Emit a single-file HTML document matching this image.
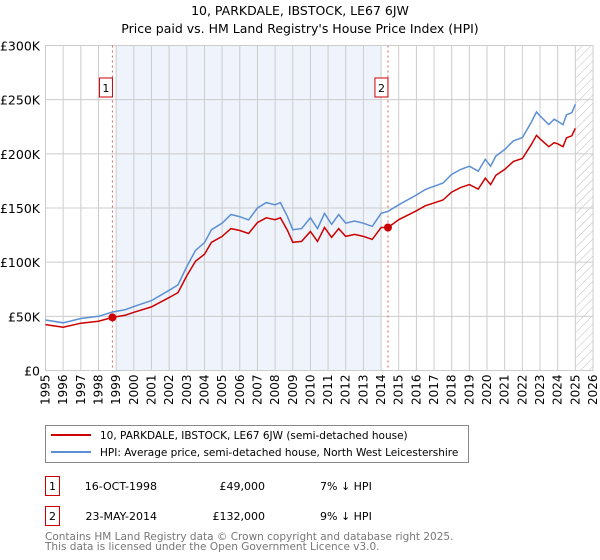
<!DOCTYPE html>
<html><head><meta charset="utf-8">
<style>
body{margin:0;background:#fff;font-family:"Liberation Sans","DejaVu Sans",sans-serif;}
#wrap{position:relative;width:600px;height:560px;overflow:hidden;}
svg text{font-family:"DejaVu Sans","Liberation Sans",sans-serif;}
</style></head>
<body><div id="wrap">
<svg id="chart" width="600" height="560"></svg>
</div>
<script>
const hpiYears=[1995,1996,1997,1998,1998.8,1999.5,2000,2001,2002,2002.5,2003,2003.5,2004,2004.4,2005,2005.5,2006,2006.5,2007,2007.5,2008,2008.3,2008.7,2009,2009.5,2010,2010.4,2010.8,2011.2,2011.6,2012,2012.5,2013,2013.5,2014,2014.4,2015,2016,2016.5,2017,2017.5,2018,2018.5,2019,2019.5,2019.9,2020.2,2020.5,2021,2021.5,2022,2022.5,2022.8,2023,2023.5,2023.8,2024,2024.3,2024.5,2024.8,2025.0];
const hpiValues=[46.6,44,48,50,54,56,59,64.5,74,79,96,111,118,130,136,144,142,139,150,155,153,155,142,130,131,141,131,145,135,144,136,138,136,133,145,147,153,162,167,170,173,181,185.5,188.6,184,195,188.6,198,204,212,215,229,238.6,235,227,232,230,227,236,238,245.7];
const priceValues=[42.4,40,43.7,45.5,49,51,53.7,58.7,67.3,71.9,87.4,101,107.4,118.3,123.8,131,129.2,126.5,136.5,141,139.2,141,129.2,118.3,119.2,128.3,119.2,132,122.9,131,123.8,125.6,123.8,121,132,132,139.2,147.4,152,154.7,157.4,164.7,168.8,171.6,167.4,177.5,171.6,180.2,185.6,193,195.7,208.4,217.1,213.9,206.6,210.3,209.3,206.6,214.8,216.6,223.6];
const saleYears=[1998.79,2014.39];
const saleValues=[49,132];
const saleLabels=["1","2"];
const yTicks=[0,50,100,150,200,250,300];
const yTickLabels=["£0","£50K","£100K","£150K","£200K","£250K","£300K"];
const xTicks=[1995,1996,1997,1998,1999,2000,2001,2002,2003,2004,2005,2006,2007,2008,2009,2010,2011,2012,2013,2014,2015,2016,2017,2018,2019,2020,2021,2022,2023,2024,2025,2026];

const L=45.5,R=593,T=45.5,B=370.5;
const x=y=>L+(y-1995)*(R-L)/31;
const yS=v=>B-v*(B-T)/300;
const NS="http://www.w3.org/2000/svg";
const svg=document.getElementById('chart');
function mk(t,a,p){const e=document.createElementNS(NS,t);for(const k in a)e.setAttribute(k,a[k]);(p||svg).appendChild(e);return e;}

let t=mk('text',{x:300,y:15,'text-anchor':'middle','font-size':12.5,fill:'#000'});t.textContent="10, PARKDALE, IBSTOCK, LE67 6JW";


t=mk('text',{x:300,y:33,'text-anchor':'middle','font-size':12.5,fill:'#000'});t.textContent="Price paid vs. HM Land Registry's House Price Index (HPI)";



let defs=mk('defs',{});
let pat=mk('pattern',{id:'hatch',width:6,height:6,patternUnits:'userSpaceOnUse',patternTransform:'rotate(45)'},defs);
mk('line',{x1:0,y1:0,x2:0,y2:6,stroke:'#bbb','stroke-width':1},pat);
let sh=mk('rect',{x:x(1999.0),y:T,width:x(2014.0)-x(1999.0),height:B-T,fill:'#eef3fc'});


let hz=mk('rect',{x:x(2025.05),y:T,width:R-x(2025.05),height:B-T,fill:'url(#hatch)'});



xTicks.forEach(v=>{const g=mk('line',{x1:x(v),x2:x(v),y1:T,y2:B,stroke:'#ccc','stroke-width':1});


const tx=mk('text',{x:0,y:0,'font-size':12,fill:'#000','text-anchor':'end',transform:`translate(${x(v)+4},${B+4}) rotate(-90)`});tx.textContent=v;

});
yTicks.forEach((v,i)=>{const g=mk('line',{x1:L,x2:R,y1:yS(v),y2:yS(v),stroke:'#ccc','stroke-width':1});


const tx=mk('text',{x:40,y:yS(v)+5,'font-size':12.5,fill:'#000','text-anchor':'end'});tx.textContent=yTickLabels[i];

});
let ax=mk('rect',{x:L,y:T,width:R-L,height:B-T,fill:'none',stroke:'#ccc'});



saleYears.forEach((s,i)=>{const l=mk('line',{x1:x(s),x2:x(s),y1:T,y2:B,stroke:'#e06060','stroke-width':1,'stroke-dasharray':'2,3'});


const bx=x(s)-10;
const r=mk('rect',{x:bx-3,y:78,width:13,height:19,fill:'#fff',stroke:'#cc0000'});


const tx=mk('text',{x:bx+3.5,y:92,'font-size':11,'text-anchor':'middle'});tx.textContent=saleLabels[i];

});

function path(xs,vs){return xs.map((a,i)=>(i?'L':'M')+x(a).toFixed(1)+','+yS(vs[i]).toFixed(1)).join('');}
let hp=mk('path',{d:path(hpiYears,hpiValues),fill:'none',stroke:'#5b8fd4','stroke-width':1.5});


let pp=mk('path',{d:path(hpiYears,priceValues),fill:'none',stroke:'#cc0000','stroke-width':1.5});


saleYears.forEach((s,i)=>{const c=mk('circle',{cx:x(s),cy:yS(saleValues[i]),r:4,fill:'#cc0000'});

});

let lg=mk('rect',{x:45.5,y:425.5,width:423,height:37,fill:'#fff',stroke:'#888'});


mk('line',{x1:51,x2:91,y1:435,y2:435,stroke:'#cc0000','stroke-width':2});
mk('line',{x1:51,x2:91,y1:452,y2:452,stroke:'#5b8fd4','stroke-width':2});
t=mk('text',{x:100,y:439,'font-size':10.5});t.textContent="10, PARKDALE, IBSTOCK, LE67 6JW (semi-detached house)";


t=mk('text',{x:100,y:456,'font-size':10.5});t.textContent="HPI: Average price, semi-detached house, North West Leicestershire";



const rows=[["1","16-OCT-1998","£49,000","7% ↓ HPI",476],["2","23-MAY-2014","£132,000","9% ↓ HPI",506]];
rows.forEach(r=>{const b=mk('rect',{x:45.5,y:r[4]+0.5,width:14,height:19,fill:'#fff',stroke:'#cc0000'});


let a=mk('text',{x:52.5,y:r[4]+14,'font-size':11,'text-anchor':'middle'});a.textContent=r[0];
a=mk('text',{x:157,y:r[4]+14,'font-size':11,'text-anchor':'end'});a.textContent=r[1];


a=mk('text',{x:265,y:r[4]+14,'font-size':11,'text-anchor':'end'});a.textContent=r[2];


a=mk('text',{x:320,y:r[4]+14,'font-size':11});a.textContent=r[3];

});

t=mk('text',{x:45,y:540,'font-size':10.5,fill:'#777'});t.textContent="Contains HM Land Registry data © Crown copyright and database right 2025.";


t=mk('text',{x:45,y:550,'font-size':10.5,fill:'#777'});t.textContent="This data is licensed under the Open Government Licence v3.0.";


</script>
</body></html>
